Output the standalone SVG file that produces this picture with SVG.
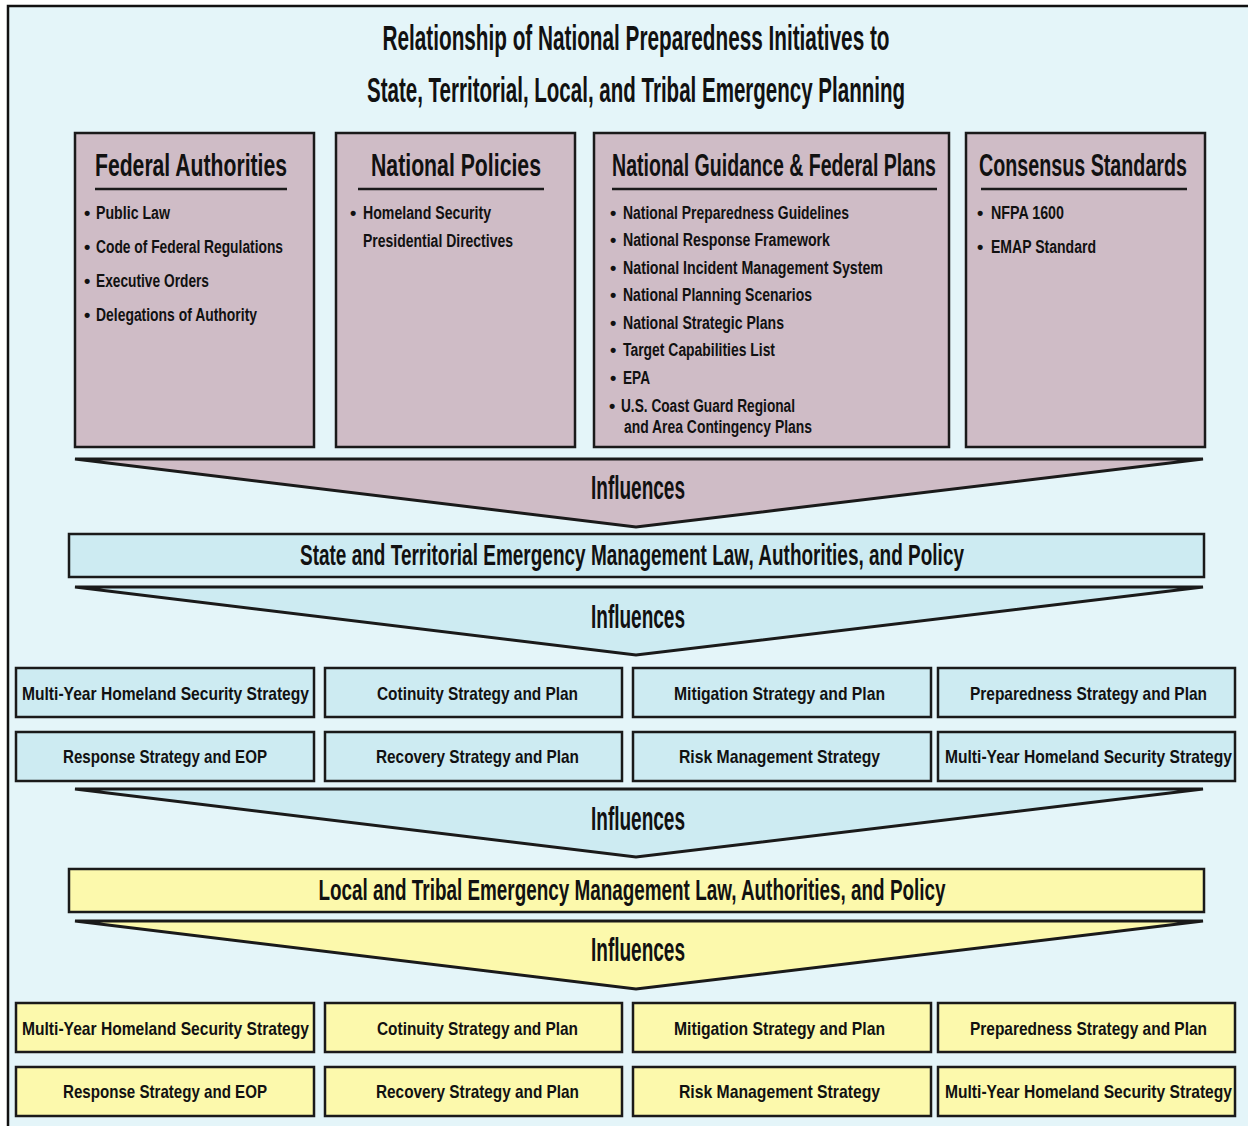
<svg xmlns="http://www.w3.org/2000/svg" width="1248" height="1126" viewBox="0 0 1248 1126">
  <style>
    text { font-family: "Liberation Sans", Arial, sans-serif; fill: #111; font-weight: bold; }
    .title { font-size: 35px; text-anchor: middle; }
    .head { font-size: 32px; }
    .item { font-size: 18px; }
    .infl { font-size: 33px; text-anchor: middle; }
    .bar { font-size: 29px; text-anchor: middle; }
    .cell { font-size: 19px; text-anchor: middle; }
    .src { fill: #cfbcc6; stroke: #1a1a1a; stroke-width: 2.5; }
    .blue { fill: #cdebf2; stroke: #1a1a1a; stroke-width: 2.5; }
    .yellow { fill: #fcf9ac; stroke: #1a1a1a; stroke-width: 2.5; }
    .chev { stroke-width: 3; stroke-linejoin: miter; }
    .rule { stroke: #1a1a1a; stroke-width: 2.5; }
  </style>

  <!-- page frame -->
  <rect x="0" y="0" width="1248" height="1126" fill="#ffffff"/>
  <rect x="8" y="6" width="1260" height="1140" fill="#e4f5f9" stroke="#111" stroke-width="2.5"/>

  <!-- title -->
  <g id="title">
    <text class="title" x="636" y="50" textLength="507" lengthAdjust="spacingAndGlyphs">Relationship of National Preparedness Initiatives to</text>
    <text class="title" x="636" y="102" textLength="538" lengthAdjust="spacingAndGlyphs">State, Territorial, Local, and Tribal Emergency Planning</text>
  </g>

  <!-- source boxes -->
  <g id="federal-authorities">
    <rect class="src" x="75" y="133" width="239" height="314"/>
    <text class="head" x="95" y="176" textLength="192" lengthAdjust="spacingAndGlyphs">Federal Authorities</text>
    <line class="rule" x1="95" y1="189" x2="287" y2="189"/>
    <text class="item" x="84" y="219">•</text>
    <text class="item" x="96" y="219" textLength="74" lengthAdjust="spacingAndGlyphs">Public Law</text>
    <text class="item" x="84" y="253">•</text>
    <text class="item" x="96" y="253" textLength="187" lengthAdjust="spacingAndGlyphs">Code of Federal Regulations</text>
    <text class="item" x="84" y="287">•</text>
    <text class="item" x="96" y="287" textLength="113" lengthAdjust="spacingAndGlyphs">Executive Orders</text>
    <text class="item" x="84" y="321">•</text>
    <text class="item" x="96" y="321" textLength="161" lengthAdjust="spacingAndGlyphs">Delegations of Authority</text>
  </g>

  <g id="national-policies">
    <rect class="src" x="336" y="133" width="239" height="314"/>
    <text class="head" x="371" y="176" textLength="170" lengthAdjust="spacingAndGlyphs">National Policies</text>
    <line class="rule" x1="358" y1="189" x2="544" y2="189"/>
    <text class="item" x="350" y="219">•</text>
    <text class="item" x="363" y="219" textLength="128" lengthAdjust="spacingAndGlyphs">Homeland Security</text>
    <text class="item" x="363" y="247" textLength="150" lengthAdjust="spacingAndGlyphs">Presidential Directives</text>
  </g>

  <g id="national-guidance">
    <rect class="src" x="594" y="133" width="355" height="314"/>
    <text class="head" x="612" y="176" textLength="324" lengthAdjust="spacingAndGlyphs">National Guidance &amp; Federal Plans</text>
    <line class="rule" x1="612" y1="189" x2="937" y2="189"/>
    <text class="item" x="610" y="219">•</text>
    <text class="item" x="623" y="219" textLength="226" lengthAdjust="spacingAndGlyphs">National Preparedness Guidelines</text>
    <text class="item" x="610" y="246">•</text>
    <text class="item" x="623" y="246" textLength="207" lengthAdjust="spacingAndGlyphs">National Response Framework</text>
    <text class="item" x="610" y="274">•</text>
    <text class="item" x="623" y="274" textLength="260" lengthAdjust="spacingAndGlyphs">National Incident Management System</text>
    <text class="item" x="610" y="301">•</text>
    <text class="item" x="623" y="301" textLength="189" lengthAdjust="spacingAndGlyphs">National Planning Scenarios</text>
    <text class="item" x="610" y="329">•</text>
    <text class="item" x="623" y="329" textLength="161" lengthAdjust="spacingAndGlyphs">National Strategic Plans</text>
    <text class="item" x="610" y="356">•</text>
    <text class="item" x="623" y="356" textLength="152" lengthAdjust="spacingAndGlyphs">Target Capabilities List</text>
    <text class="item" x="610" y="384">•</text>
    <text class="item" x="623" y="384" textLength="27" lengthAdjust="spacingAndGlyphs">EPA</text>
    <text class="item" x="609" y="412">•</text>
    <text class="item" x="621" y="412" textLength="174" lengthAdjust="spacingAndGlyphs">U.S. Coast Guard Regional</text>
    <text class="item" x="624" y="433" textLength="188" lengthAdjust="spacingAndGlyphs">and Area Contingency Plans</text>
  </g>

  <g id="consensus-standards">
    <rect class="src" x="966" y="133" width="239" height="314"/>
    <text class="head" x="979" y="176" textLength="208" lengthAdjust="spacingAndGlyphs">Consensus Standards</text>
    <line class="rule" x1="981" y1="189" x2="1187" y2="189"/>
    <text class="item" x="977" y="219">•</text>
    <text class="item" x="991" y="219" textLength="73" lengthAdjust="spacingAndGlyphs">NFPA 1600</text>
    <text class="item" x="977" y="253">•</text>
    <text class="item" x="991" y="253" textLength="105" lengthAdjust="spacingAndGlyphs">EMAP Standard</text>
  </g>

  <!-- influence chevrons -->
  <g id="connectors">
    <g id="influence-1">
      <polygon class="src chev" points="75,459 1203,459 636,527"/>
      <text class="infl" x="638" y="499" textLength="94" lengthAdjust="spacingAndGlyphs">Influences</text>
    </g>
    <g id="influence-2">
      <polygon class="blue chev" points="75,587 1203,587 636,655"/>
      <text class="infl" x="638" y="628" textLength="94" lengthAdjust="spacingAndGlyphs">Influences</text>
    </g>
    <g id="influence-3">
      <polygon class="blue chev" points="75,789 1203,789 636,857"/>
      <text class="infl" x="638" y="830" textLength="94" lengthAdjust="spacingAndGlyphs">Influences</text>
    </g>
    <g id="influence-4">
      <polygon class="yellow chev" points="75,921 1203,921 636,989"/>
      <text class="infl" x="638" y="961" textLength="94" lengthAdjust="spacingAndGlyphs">Influences</text>
    </g>
  </g>

  <!-- state / territorial tier -->
  <g id="state-policy">
    <rect class="blue" x="69" y="534" width="1135" height="43"/>
    <text class="bar" x="632" y="565" textLength="664" lengthAdjust="spacingAndGlyphs">State and Territorial Emergency Management Law, Authorities, and Policy</text>
  </g>

  <g id="state-plans">
    <g id="s-multiyear-1"><rect class="blue" x="16" y="668" width="298" height="49"/><text class="cell" x="165.5" y="700" textLength="287" lengthAdjust="spacingAndGlyphs">Multi-Year Homeland Security Strategy</text></g>
    <g id="s-continuity"><rect class="blue" x="325" y="668" width="297" height="49"/><text class="cell" x="477.5" y="700" textLength="201" lengthAdjust="spacingAndGlyphs">Cotinuity Strategy and Plan</text></g>
    <g id="s-mitigation"><rect class="blue" x="633" y="668" width="298" height="49"/><text class="cell" x="779.5" y="700" textLength="211" lengthAdjust="spacingAndGlyphs">Mitigation Strategy and Plan</text></g>
    <g id="s-preparedness"><rect class="blue" x="938" y="668" width="297" height="49"/><text class="cell" x="1088.5" y="700" textLength="237" lengthAdjust="spacingAndGlyphs">Preparedness Strategy and Plan</text></g>
    <g id="s-response"><rect class="blue" x="16" y="732" width="298" height="49"/><text class="cell" x="165" y="763" textLength="204" lengthAdjust="spacingAndGlyphs">Response Strategy and EOP</text></g>
    <g id="s-recovery"><rect class="blue" x="325" y="732" width="297" height="49"/><text class="cell" x="477.5" y="763" textLength="203" lengthAdjust="spacingAndGlyphs">Recovery Strategy and Plan</text></g>
    <g id="s-risk"><rect class="blue" x="633" y="732" width="298" height="49"/><text class="cell" x="779.5" y="763" textLength="201" lengthAdjust="spacingAndGlyphs">Risk Management Strategy</text></g>
    <g id="s-multiyear-2"><rect class="blue" x="938" y="732" width="297" height="49"/><text class="cell" x="1088.5" y="763" textLength="287" lengthAdjust="spacingAndGlyphs">Multi-Year Homeland Security Strategy</text></g>
  </g>

  <!-- local / tribal tier -->
  <g id="local-policy">
    <rect class="yellow" x="69" y="869" width="1135" height="43"/>
    <text class="bar" x="632" y="900" textLength="627" lengthAdjust="spacingAndGlyphs">Local and Tribal Emergency Management Law, Authorities, and Policy</text>
  </g>

  <g id="local-plans">
    <g id="l-multiyear-1"><rect class="yellow" x="16" y="1003" width="298" height="49"/><text class="cell" x="165.5" y="1035" textLength="287" lengthAdjust="spacingAndGlyphs">Multi-Year Homeland Security Strategy</text></g>
    <g id="l-continuity"><rect class="yellow" x="325" y="1003" width="297" height="49"/><text class="cell" x="477.5" y="1035" textLength="201" lengthAdjust="spacingAndGlyphs">Cotinuity Strategy and Plan</text></g>
    <g id="l-mitigation"><rect class="yellow" x="633" y="1003" width="298" height="49"/><text class="cell" x="779.5" y="1035" textLength="211" lengthAdjust="spacingAndGlyphs">Mitigation Strategy and Plan</text></g>
    <g id="l-preparedness"><rect class="yellow" x="938" y="1003" width="297" height="49"/><text class="cell" x="1088.5" y="1035" textLength="237" lengthAdjust="spacingAndGlyphs">Preparedness Strategy and Plan</text></g>
    <g id="l-response"><rect class="yellow" x="16" y="1067" width="298" height="49"/><text class="cell" x="165" y="1098" textLength="204" lengthAdjust="spacingAndGlyphs">Response Strategy and EOP</text></g>
    <g id="l-recovery"><rect class="yellow" x="325" y="1067" width="297" height="49"/><text class="cell" x="477.5" y="1098" textLength="203" lengthAdjust="spacingAndGlyphs">Recovery Strategy and Plan</text></g>
    <g id="l-risk"><rect class="yellow" x="633" y="1067" width="298" height="49"/><text class="cell" x="779.5" y="1098" textLength="201" lengthAdjust="spacingAndGlyphs">Risk Management Strategy</text></g>
    <g id="l-multiyear-2"><rect class="yellow" x="938" y="1067" width="297" height="49"/><text class="cell" x="1088.5" y="1098" textLength="287" lengthAdjust="spacingAndGlyphs">Multi-Year Homeland Security Strategy</text></g>
  </g>
</svg>
